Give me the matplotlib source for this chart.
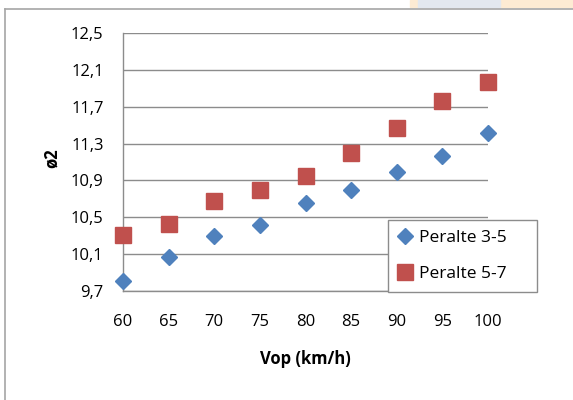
import matplotlib.pyplot as plt
from matplotlib.lines import Line2D
from matplotlib.patches import Rectangle
from matplotlib.ticker import FuncFormatter

plt.rcParams['font.family'] = ['Open Sans', 'DejaVu Sans']

# Operating speed vs ø2 for two superelevation ranges
vop = [60, 65, 70, 75, 80, 85, 90, 95, 100]
peralte_3_5 = [9.81, 10.07, 10.30, 10.41, 10.65, 10.80, 10.99, 11.16, 11.42]
peralte_5_7 = [10.31, 10.43, 10.68, 10.80, 10.95, 11.20, 11.47, 11.76, 11.97]
y_ticks = [9.7, 10.1, 10.5, 10.9, 11.3, 11.7, 12.1, 12.5]

W, H = 573, 400
fig = plt.figure(figsize=(W / 100, H / 100), dpi=100)

# sheet background bits around the chart
fig.patches.append(Rectangle((410 / W, 1 - 7 / H), 163 / W, 7 / H,
                             transform=fig.transFigure, color='#fdebd3', zorder=0))
fig.patches.append(Rectangle((418 / W, 1 - 7 / H), 82 / W, 7 / H,
                             transform=fig.transFigure, color='#e3e8ef', zorder=0))
fig.lines.append(Line2D([5 / W, 5 / W], [0, 1 - 9 / H], transform=fig.transFigure,
                        color='#a6a6a6', lw=1.2))
fig.lines.append(Line2D([5 / W, 1], [1 - 9 / H, 1 - 9 / H], transform=fig.transFigure,
                        color='#a6a6a6', lw=1.2))

ax = fig.add_axes([123 / W, 1 - 290.7 / H, (488 - 123) / W, (290.7 - 33.3) / H])

ax.plot(vop, peralte_3_5, linestyle='none', marker='D', markersize=8.4,
        color='#4f81bd', label='Peralte 3-5', clip_on=False, zorder=3)
ax.plot(vop, peralte_5_7, linestyle='none', marker='s', markersize=11.8,
        color='#c0504d', label='Peralte 5-7', clip_on=False, zorder=3)

ax.set_xlim(60, 100)
ax.set_ylim(9.7, 12.5)
ax.set_xticks(vop)
ax.set_yticks(y_ticks)
ax.yaxis.set_major_formatter(FuncFormatter(lambda v, p: f'{v:.1f}'.replace('.', ',')))
ax.tick_params(length=0, labelsize=12, colors='black')
ax.tick_params(axis='x', pad=16.5)
ax.tick_params(axis='y', pad=14)

ax.grid(axis='y', color='#8c8c8c', linewidth=1.0)
ax.set_axisbelow(True)
for s in ['top', 'right']:
    ax.spines[s].set_visible(False)
for s in ['left', 'bottom']:
    ax.spines[s].set_color('#8c8c8c')
    ax.spines[s].set_linewidth(1.0)

fig.text(305 / W, 1 - 359 / H, 'Vop (km/h)', ha='center', va='center',
         fontsize=12, fontweight='bold')
fig.text(52 / W, 1 - 158 / H, 'ø2', ha='center', va='center', rotation=90,
         fontsize=12, fontweight='bold')

leg = ax.legend(loc='lower left', bbox_to_anchor=(388 / W, 1 - 292 / H, 149 / W, 79 / H),
                bbox_transform=fig.transFigure, mode='expand', borderaxespad=0,
                fancybox=False, framealpha=1, edgecolor='#8c8c8c', fontsize=12.5,
                handlelength=0.8, handletextpad=0.4, labelspacing=1.1,
                borderpad=0.6)
leg.get_frame().set_linewidth(1.0)

fig.savefig('out.png', dpi=100)
